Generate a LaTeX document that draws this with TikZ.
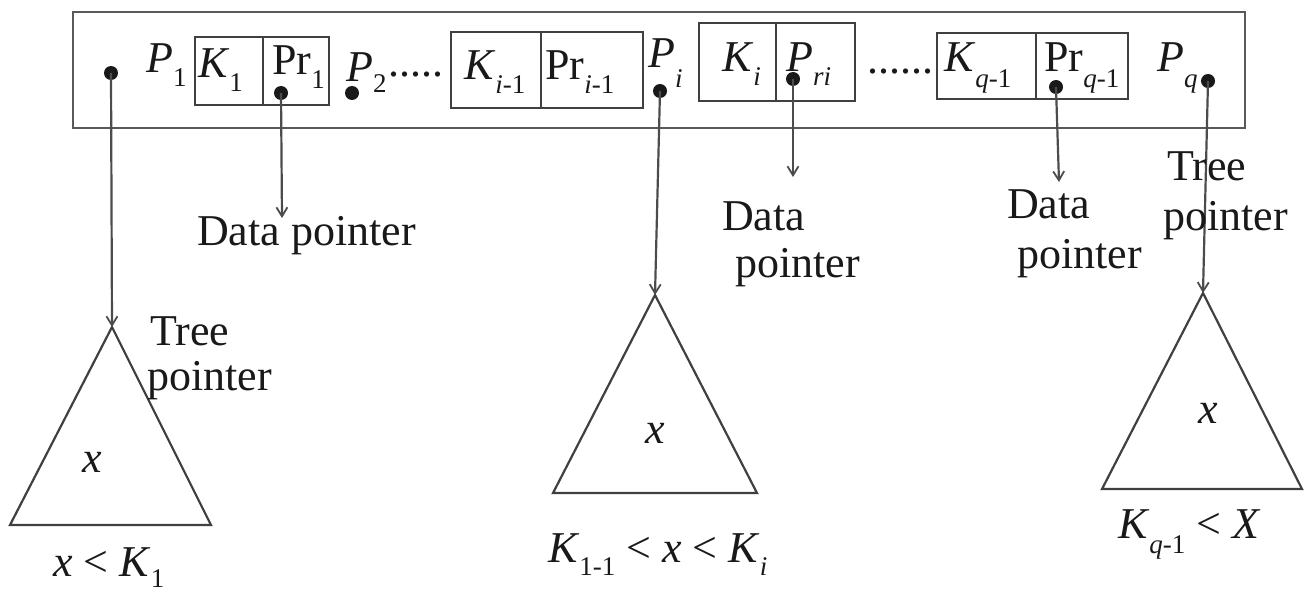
\documentclass[tikz,border=0pt]{standalone}
\usepackage{fontspec}
\setmainfont{Liberation Serif}
\usetikzlibrary{arrows.meta}
\newcommand{\sbs}[2][0.31em]{\raisebox{-#1}{\fontsize{27}{27}\selectfont #2}}
\begin{document}
\begin{tikzpicture}[x=1pt,y=-1pt,
  txt/.style={inner sep=0pt, anchor=base west, text=black!90, font=\fontsize{44}{48}\selectfont},
  framebox/.style={draw=black!65, line width=2.5pt, inner sep=0pt},
  cellbox/.style={draw=black!75, line width=2pt, inner sep=0pt},
  blob/.style={circle, fill=black!90, inner sep=0pt, minimum size=14pt},
  ptr/.style={draw=black!70, line width=2.2pt, -{Straight Barb[length=9pt,width=11pt,line width=1.8pt]}},
  tri/.style={draw=black!75, line width=2.2pt, line join=miter}]
\useasboundingbox (0,0) rectangle (1304,591);
% outer frame
\node[framebox, minimum width=1172pt, minimum height=116pt] (frame) at (659,70) {};
% cells
\node[cellbox, minimum width=68pt, minimum height=68pt] (c1k) at (229,71) {};
\node[cellbox, minimum width=66pt, minimum height=68pt] (c1p) at (296,71) {};
\node[cellbox, minimum width=90pt, minimum height=76pt] (c2k) at (496,70) {};
\node[cellbox, minimum width=102pt, minimum height=76pt] (c2p) at (592,70) {};
\node[cellbox, minimum width=77pt, minimum height=78pt] (c3k) at (737.5,62) {};
\node[cellbox, minimum width=79pt, minimum height=78pt] (c3p) at (815.5,62) {};
\node[cellbox, minimum width=99pt, minimum height=66pt] (c4k) at (986.5,66) {};
\node[cellbox, minimum width=92pt, minimum height=66pt] (c4p) at (1082,66) {};
% texts in the node
\node[txt] (tP1) at (146,73) {\textit{P}\sbs{1}};
\node[txt] (tK1) at (198,78) {\textit{K}\sbs{1}};
\node[txt] (tPr1) at (272,75) {Pr\sbs{1}};
\node[txt] (tP2) at (346,82) {\textit{P}\sbs[0.25em]{2}};
\node[txt] (tdots1) at (388,77) {.....};
\node[txt] (tKi1) at (464,80) {\textit{K}\sbs{\textit{i}-1}};
\node[txt] (tPri1) at (545,80) {Pr\sbs{\textit{i}-1}};
\node[txt] (tPi) at (648,68) {\textit{P}\sbs[0.44em]{\textit{i}}};
\node[txt] (tKi) at (722,72) {\textit{K}\sbs{\textit{i}}};
\node[txt] (tPri) at (786,72) {\textit{P}\sbs[0.3em]{\textit{ri}}};
\node[txt] (tdots2) at (867,74) {......};
\node[txt] (tKq1) at (944,72) {\textit{K}\sbs[0.36em]{\textit{q}-1}};
\node[txt] (tPrq1) at (1044,72) {Pr\sbs[0.36em]{\textit{q}-1}};
\node[txt] (tPq) at (1157,72) {\textit{P}\sbs[0.36em]{\textit{q}}};
% triangles
\coordinate (A1) at (112,327);
\coordinate (A2) at (655,295);
\coordinate (A3) at (1203,293);
\draw[tri] (A1) -- (10,525) -- (211,525) -- cycle;
\draw[tri] (A2) -- (553,493) -- (757,493) -- cycle;
\draw[tri] (A3) -- (1102,489) -- (1302,489) -- cycle;
% arrow ends for data pointers
\coordinate (E1) at (282,218);
\coordinate (E2) at (793,177);
\coordinate (E3) at (1059,182);
% dots
\node[blob] (d1) at (111,73) {};
\node[blob] (dpr1) at (281,93) {};
\node[blob] (d2) at (352,93) {};
\node[blob] (dpi) at (660,91) {};
\node[blob] (dpri) at (793,79) {};
\node[blob] (dprq) at (1056,87) {};
\node[blob] (dpq) at (1208,81) {};
% connectors
\draw[ptr] (d1.center) -- (A1);
\draw[ptr] (dpr1.center) -- (E1);
\draw[ptr] (dpi.center) -- (A2);
\draw[ptr] (dpri.center) -- (E2);
\draw[ptr] (dprq.center) -- (E3);
\draw[ptr] (dpq.center) -- (A3);
% labels
\node[txt] (dp1) at (197,245) {Data pointer};
\node[txt] (dp2a) at (722,230) {Data};
\node[txt] (dp2b) at (735,277) {pointer};
\node[txt] (dp3a) at (1007,218) {Data};
\node[txt] (dp3b) at (1017,268) {pointer};
\node[txt] (tp1a) at (150,345) {Tree};
\node[txt] (tp1b) at (147,390) {pointer};
\node[txt] (tp2a) at (1167,180) {Tree};
\node[txt] (tp2b) at (1163,230) {pointer};
\node[txt] (x1) at (82,472) {\textit{x}};
\node[txt] (x2) at (645,443) {\textit{x}};
\node[txt] (x3) at (1198,423) {\textit{x}};
\node[txt] (r1) at (53,576) {\textit{x} {<} \textit{K}\sbs[0.25em]{1}};
\node[txt] (r2) at (548,562) {\textit{K}\sbs{1-1} {<} \textit{x} {<} \textit{K}\sbs{\textit{i}}};
\node[txt] (r3) at (1118,538) {\textit{K}\sbs[0.36em]{\textit{q}-1} {<} \textit{X}};
\end{tikzpicture}
\end{document}
